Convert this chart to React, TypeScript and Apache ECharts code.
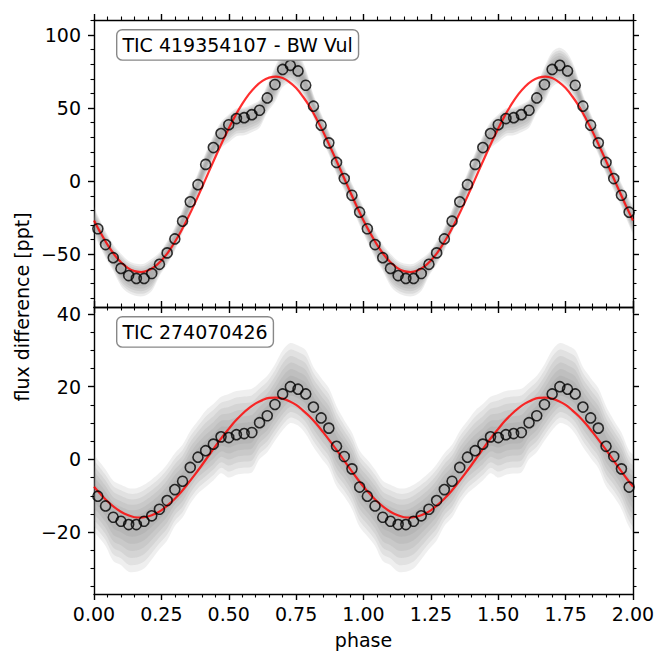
import React, { useEffect, useRef } from "react";
import * as echarts from "echarts";

// ---- data ----
const NBINS = 35; // phase bins per cycle, folded twice (phase 0..2)

// binned means (black open circles), one cycle
const topBins = [
  -32.5, -43.3, -52.3, -59.6, -64.5, -66.5, -66.5, -63.1, -56.8, -49.0, -39.5, -27.3,
  -14.1, -2.4, 11.5, 23.0, 32.6, 38.6, 42.8, 43.4, 45.5, 48.5, 56.9, 66.1, 76.4, 79.2,
  75.4, 65.6, 51.3, 38.3, 26.2, 12.8, 1.8, -9.6, -21.2,
];
const bottomBins = [
  -10.1, -12.8, -15.9, -17.0, -17.9, -17.9, -17.0, -15.5, -13.7, -11.3, -8.3, -6.0,
  -2.2, 0.6, 2.4, 4.2, 6.2, 6.0, 6.8, 7.1, 7.4, 10.1, 12.0, 15.1, 18.0, 20.0, 19.3,
  18.0, 14.4, 11.4, 8.6, 3.6, 0.8, -2.6, -7.6,
];

// extent of the grey point cloud above / below each bin mean
const topUp = [9, 9, 9, 10, 10, 10, 10, 10, 8, 8, 8, 8, 8, 8, 8, 8, 8, 7, 7, 7, 7, 7, 9, 12, 12, 12, 12, 11, 8, 8, 8, 8, 8, 8, 9];
const topDown = [9, 9, 9, 12, 12, 12, 12, 12, 8, 8, 8, 8, 8, 8, 8, 8, 10, 12, 12, 12, 12, 12, 10, 12, 12, 12, 12, 10, 8, 8, 8, 8, 8, 8, 9];
const bottomUp = [10, 10, 10, 10, 10, 10, 10, 10, 10, 10, 10, 10, 10, 10, 11, 11, 11, 12, 12, 12, 12, 11, 11, 11, 12, 12, 12, 12, 11, 11, 11, 11, 10, 10, 10];
const bottomDown = [11, 11, 12, 12, 13, 13, 13, 12, 11, 11, 10, 10, 10, 10, 10, 10, 10, 11, 11, 11, 11, 10, 10, 10, 10, 10, 10, 11, 11, 11, 11, 11, 11, 11, 11];

// red sinusoid fit, sampled every 0.025 in phase over one cycle
const fitPhases = [
  0, 0.025, 0.05, 0.075, 0.1, 0.125, 0.15, 0.175, 0.2, 0.225, 0.25, 0.275, 0.3, 0.325,
  0.35, 0.375, 0.4, 0.425, 0.45, 0.475, 0.5, 0.525, 0.55, 0.575, 0.6, 0.625, 0.65,
  0.675, 0.7, 0.725, 0.75, 0.775, 0.8, 0.825, 0.85, 0.875, 0.9, 0.925, 0.95, 0.975, 1.0,
];
const topFit = [
  -26.8, -35.5, -43.4, -50.1, -55.4, -59.2, -61.5, -62.1, -61.1, -58.4, -54.2, -48.6,
  -41.6, -33.5, -24.5, -14.8, -4.5, 6.0, 16.4, 26.5, 36.1, 45.0, 52.8, 59.5, 64.8, 68.6,
  70.8, 71.5, 70.5, 67.8, 63.7, 57.9, 51.1, 42.8, 33.9, 24.0, 13.9, 3.4, -7.0, -17.2, -26.8,
];
const bottomFit = [
  -7.5, -9.6, -11.5, -13.1, -14.4, -15.3, -15.9, -16.0, -15.7, -15.0, -14.0, -12.5,
  -10.8, -8.8, -6.5, -4.1, -1.6, 1.0, 3.6, 6.1, 8.4, 10.6, 12.5, 14.1, 15.4, 16.3, 16.9,
  17.0, 16.7, 16.0, 15.0, 13.5, 11.8, 9.8, 7.5, 5.1, 2.6, 0.0, -2.6, -5.1, -7.5,
];

// axes
const topRange = [-86, 110.2];
const bottomRange = [-37, 41.9];
const topMajor = [-50, 0, 50, 100];
const topMinor = [-80, -70, -60, -40, -30, -20, -10, 10, 20, 30, 40, 60, 70, 80, 90, 110];
const bottomMajor = [-20, 0, 20, 40];
const bottomMinor = [-35, -30, -25, -15, -10, -5, 5, 10, 15, 25, 30, 35];

const topLabel = "TIC 419354107 - BW Vul";
const bottomLabel = "TIC 274070426";
const xName = "phase";
const yName = "flux difference [ppt]";

// ---- helpers ----
const FONT = "DejaVu Sans";
const FS = 19;
const AX = { color: "#000", width: 1.4 };
const CLOUD_LAYERS = [1, 0.85, 0.7, 0.55, 0.4, 0.25];

function folded(bins: number[]) {
  const out: number[][] = [];
  for (let k = 0; k < 2 * NBINS; k++) out.push([(k + 0.5) / NBINS, bins[k % NBINS]]);
  return out;
}
function foldedFit(vals: number[]) {
  const out: number[][] = [];
  for (let c = 0; c < 2; c++)
    fitPhases.forEach((p, j) => {
      if (c === 1 && j === 0) return;
      out.push([c + p, vals[j]]);
    });
  return out;
}

function xAx(grid: number, pos: string, labels: boolean) {
  return {
    type: "value",
    gridIndex: grid,
    position: pos,
    min: 0,
    max: 2,
    interval: 0.25,
    axisLine: { show: true, onZero: false, lineStyle: AX },
    axisTick: { show: true, inside: false, length: 6, lineStyle: AX },
    minorTick: { show: true, splitNumber: 5, length: 3.5, lineStyle: { color: "#000", width: 1.1 } },
    splitLine: { show: false },
    minorSplitLine: { show: false },
    axisLabel: {
      show: labels,
      margin: 10,
      fontSize: FS,
      fontFamily: FONT,
      color: "#000",
      formatter: (v: number) => v.toFixed(2),
    },
  };
}

function yAx(grid: number, pos: string, range: number[], values: number[], labels: boolean, len: number, line: boolean) {
  return {
    type: "value",
    gridIndex: grid,
    position: pos,
    min: range[0],
    max: range[1],
    axisLine: { show: line, onZero: false, lineStyle: AX },
    axisTick: { show: true, inside: false, length: len, customValues: values, lineStyle: len > 5 ? AX : { color: "#000", width: 1.1 } },
    splitLine: { show: false },
    axisLabel: {
      show: labels,
      customValues: values,
      margin: 13,
      fontSize: FS,
      fontFamily: FONT,
      color: "#000",
      formatter: (v: number) => (v < 0 ? "\u2212" + Math.abs(v) : String(v)),
    },
  };
}

function cloudSeries(xi: number, yi: number, bins: number[], up: number[], down: number[], alpha: number) {
  return {
    type: "custom",
    xAxisIndex: xi,
    yAxisIndex: yi,
    clip: true,
    silent: true,
    z: 1,
    data: [[0, 0]],
    renderItem: (params: any, api: any) => {
      const cs = params.coordSys;
      const children = CLOUD_LAYERS.map((f) => {
        const upper: number[][] = [];
        const lower: number[][] = [];
        for (let k = -1; k <= 2 * NBINS; k++) {
          const i = ((k % NBINS) + NBINS) % NBINS;
          const x = (k + 0.5) / NBINS;
          upper.push(api.coord([x, bins[i] + up[i] * f]));
          lower.push(api.coord([x, bins[i] - down[i] * f]));
        }
        return {
          type: "polygon",
          shape: { points: upper.concat(lower.reverse()), smooth: 0.3 },
          style: { fill: `rgba(125,125,125,${alpha})` },
        };
      });
      return {
        type: "group",
        clipPath: { type: "rect", shape: { x: cs.x, y: cs.y, width: cs.width, height: cs.height } },
        children,
      };
    },
  };
}

function fitSeries(xi: number, yi: number, vals: number[]) {
  return {
    type: "line",
    xAxisIndex: xi,
    yAxisIndex: yi,
    data: foldedFit(vals),
    smooth: 0.4,
    showSymbol: false,
    symbol: "none",
    z: 3,
    lineStyle: { color: "rgba(255,0,0,0.82)", width: 2.2 },
  };
}

function binSeries(xi: number, yi: number, bins: number[]) {
  return {
    type: "scatter",
    xAxisIndex: xi,
    yAxisIndex: yi,
    data: folded(bins),
    symbol: "circle",
    symbolSize: 10,
    z: 4,
    itemStyle: { color: "rgba(0,0,0,0)", borderColor: "#000", borderWidth: 1.6 },
  };
}

function boxText(text: string, left: number, top: number) {
  return {
    type: "text",
    left,
    top,
    z: 100,
    style: {
      text,
      font: `${FS}px "${FONT}"`,
      fill: "#000",
      backgroundColor: "#fff",
      borderColor: "#888",
      borderWidth: 1.4,
      borderRadius: 5,
      padding: [5, 5, 4, 5],
      lineHeight: 20,
    },
  };
}

export default function App() {
  const ref = useRef<HTMLDivElement>(null);
  useEffect(() => {
    if (!ref.current) return;
    const chart = echarts.init(ref.current, undefined, { renderer: "svg" });
    chart.setOption({
      animation: false,
      backgroundColor: "#fff",
      grid: [
        { left: 94, top: 20, width: 539, height: 287 },
        { left: 94, top: 307, width: 539, height: 287 },
      ],
      xAxis: [xAx(0, "bottom", false), xAx(0, "top", false), xAx(1, "bottom", true), xAx(1, "top", false)],
      yAxis: [
        yAx(0, "left", topRange, topMajor, true, 6, true),
        yAx(0, "left", topRange, topMinor, false, 3.5, false),
        yAx(0, "right", topRange, topMajor, false, 6, true),
        yAx(0, "right", topRange, topMinor, false, 3.5, false),
        yAx(1, "left", bottomRange, bottomMajor, true, 6, true),
        yAx(1, "left", bottomRange, bottomMinor, false, 3.5, false),
        yAx(1, "right", bottomRange, bottomMajor, false, 6, true),
        yAx(1, "right", bottomRange, bottomMinor, false, 3.5, false),
      ],
      series: [
        cloudSeries(0, 0, topBins, topUp, topDown, 0.15),
        fitSeries(0, 0, topFit),
        binSeries(0, 0, topBins),
        cloudSeries(2, 4, bottomBins, bottomUp, bottomDown, 0.12),
        fitSeries(2, 4, bottomFit),
        binSeries(2, 4, bottomBins),
      ],
      graphic: [
        boxText(topLabel, 116, 29),
        boxText(bottomLabel, 116, 316),
        {
          type: "text",
          x: 22,
          y: 307,
          rotation: Math.PI / 2,
          z: 100,
          style: { text: yName, font: `${FS}px "${FONT}"`, fill: "#000", align: "center", verticalAlign: "middle" },
        },
        {
          type: "text",
          x: 363.5,
          y: 640,
          z: 100,
          style: { text: xName, font: `${FS}px "${FONT}"`, fill: "#000", align: "center", verticalAlign: "middle" },
        },
      ],
    });
    return () => chart.dispose();
  }, []);
  return <div ref={ref} style={{ position: "absolute", left: 0, top: 0, width: 671, height: 651, background: "#fff" }} />;
}
